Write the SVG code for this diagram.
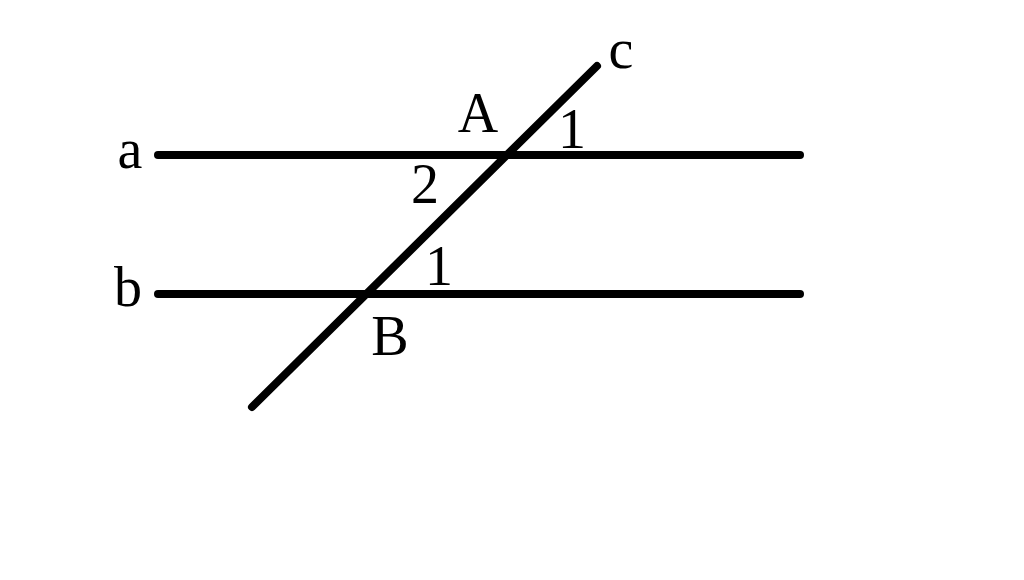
<svg xmlns="http://www.w3.org/2000/svg" width="1024" height="580" viewBox="0 0 1024 580">
<style>
.ln{stroke:#000;stroke-width:8;stroke-linecap:round;fill:none}
.lb{font-family:"Liberation Serif","Times New Roman",serif;font-size:56px;fill:#000;text-anchor:middle}
</style>
<rect width="1024" height="580" fill="#fff"/>
<g id="connectors">
<line id="line-a" class="ln" x1="158" y1="155" x2="800" y2="155"/>
<line id="line-b" class="ln" x1="158" y1="294" x2="800" y2="294"/>
<line id="line-c" class="ln" x1="252" y1="407" x2="597" y2="66"/>
</g>
<g id="labels">
<text class="lb" x="130" y="168">a</text>
<text class="lb" x="128" y="306">b</text>
<text class="lb" x="621" y="68">c</text>
<text class="lb" x="478" y="132">A</text>
<text class="lb" x="572" y="148">1</text>
<text class="lb" x="425" y="203">2</text>
<text class="lb" x="439" y="285">1</text>
<text class="lb" x="390" y="355">B</text>
</g>
</svg>
